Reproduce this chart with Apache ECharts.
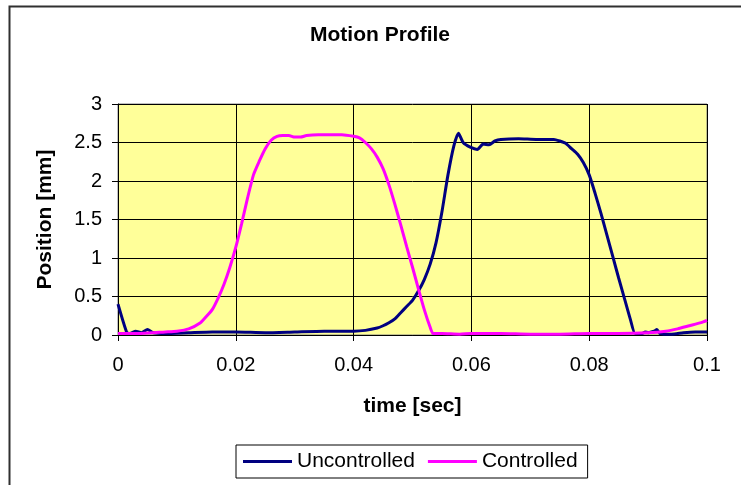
<!DOCTYPE html>
<html>
<head>
<meta charset="utf-8">
<script src="https://cdn.jsdelivr.net/npm/echarts@6/dist/echarts.min.js"></script>
<style>
html,body{margin:0;padding:0;background:#fff;}
#chart{width:741px;height:485px;}
</style>
</head>
<body>
<div id="chart"></div>
<script>
var xTicks = [0, 0.02, 0.04, 0.06, 0.08, 0.1];
var yTicks = [0, 0.5, 1, 1.5, 2, 2.5, 3];

var uncTime = [0, 0.0015, 0.002, 0.003, 0.004, 0.005, 0.006, 0.008, 0.012, 0.016, 0.020, 0.025, 0.030, 0.035, 0.040, 0.042, 0.044, 0.045, 0.046, 0.047, 0.048, 0.049, 0.050, 0.051, 0.052, 0.053, 0.054, 0.055, 0.056, 0.057, 0.0578, 0.0586, 0.0598, 0.061, 0.062, 0.063, 0.064, 0.065, 0.068, 0.071, 0.074, 0.075, 0.076, 0.077, 0.078, 0.079, 0.080, 0.081, 0.082, 0.083, 0.084, 0.085, 0.086, 0.087, 0.0878, 0.089, 0.0895, 0.090, 0.091, 0.0915, 0.092, 0.094, 0.096, 0.098, 0.100];
var uncPos  = [0.4, 0.03, 0.02, 0.05, 0.03, 0.07, 0.03, 0.02, 0.03, 0.04, 0.04, 0.03, 0.04, 0.05, 0.05, 0.06, 0.09, 0.12, 0.16, 0.21, 0.29, 0.37, 0.45, 0.57, 0.72, 0.92, 1.2, 1.6, 2.07, 2.45, 2.62, 2.5, 2.44, 2.41, 2.48, 2.47, 2.52, 2.54, 2.55, 2.54, 2.54, 2.52, 2.49, 2.42, 2.35, 2.24, 2.08, 1.84, 1.58, 1.3, 1.02, 0.74, 0.47, 0.2, 0.02, 0.02, 0.04, 0.03, 0.05, 0.07, 0.02, 0.01, 0.03, 0.04, 0.04];

var ctrlTime = [0, 0.004, 0.008, 0.010, 0.012, 0.014, 0.015, 0.016, 0.017, 0.018, 0.019, 0.020, 0.021, 0.022, 0.023, 0.024, 0.025, 0.026, 0.027, 0.028, 0.029, 0.030, 0.031, 0.032, 0.034, 0.036, 0.038, 0.040, 0.041, 0.042, 0.043, 0.044, 0.045, 0.046, 0.047, 0.048, 0.049, 0.050, 0.051, 0.052, 0.053, 0.0535, 0.055, 0.058, 0.060, 0.065, 0.070, 0.075, 0.080, 0.085, 0.090, 0.093, 0.095, 0.097, 0.099, 0.100];
var ctrlPos  = [0.02, 0.02, 0.04, 0.05, 0.08, 0.16, 0.24, 0.33, 0.48, 0.66, 0.88, 1.14, 1.45, 1.78, 2.08, 2.26, 2.42, 2.53, 2.58, 2.59, 2.59, 2.57, 2.57, 2.59, 2.6, 2.6, 2.6, 2.58, 2.56, 2.5, 2.42, 2.31, 2.16, 1.95, 1.7, 1.43, 1.15, 0.88, 0.6, 0.33, 0.1, 0.02, 0.02, 0.01, 0.02, 0.02, 0.01, 0.01, 0.02, 0.02, 0.03, 0.05, 0.08, 0.12, 0.16, 0.19];

function pairs(t, v) { return t.map(function (x, i) { return [x, v[i]]; }); }

var FONT = 'Arial, "Liberation Sans", sans-serif';
var chart = echarts.init(document.getElementById('chart'));
chart.setOption({
  animation: false,
  backgroundColor: '#ffffff',
  graphic: [{
    type: 'rect', silent: true, z: 100,
    shape: { x: 9.5, y: 6.5, width: 800, height: 600 },
    style: { fill: 'none', stroke: '#303030', lineWidth: 2 }
  }],
  title: {
    text: 'Motion Profile',
    left: 310, top: 25, padding: 0,
    textStyle: { fontFamily: FONT, fontSize: 21, fontWeight: 'bold', color: '#000' }
  },
  legend: {
    left: 236, top: 445,
    padding: [6, 10, 6, 7],
    borderColor: '#000', borderWidth: 1,
    itemGap: 13, itemWidth: 49, itemHeight: 3,
    icon: 'rect',
    textStyle: { fontFamily: FONT, fontSize: 21, color: '#000' },
    data: ['Uncontrolled', 'Controlled']
  },
  grid: {
    left: 118, right: 34, top: 104, bottom: 150,
    show: true, backgroundColor: '#FFFF99', borderColor: '#808080', borderWidth: 1
  },
  xAxis: {
    type: 'value', min: xTicks[0], max: xTicks[xTicks.length - 1], interval: 0.02,
    name: 'time [sec]', nameLocation: 'middle', nameGap: 61,
    nameTextStyle: { fontFamily: FONT, fontSize: 21, fontWeight: 'bold', color: '#000' },
    axisLine: { lineStyle: { color: '#000', width: 1 } },
    axisTick: { show: true, length: 6, lineStyle: { color: '#000' } },
    axisLabel: { fontFamily: FONT, fontSize: 20, color: '#000', margin: 20 },
    splitLine: { show: true, lineStyle: { color: '#000', width: 1 } }
  },
  yAxis: {
    type: 'value', min: yTicks[0], max: yTicks[yTicks.length - 1], interval: 0.5,
    name: 'Position [mm]', nameLocation: 'middle', nameGap: 62,
    nameTextStyle: { fontFamily: FONT, fontSize: 21, fontWeight: 'bold', color: '#000' },
    axisLine: { show: true, lineStyle: { color: '#000', width: 1 } },
    axisTick: { show: true, length: 6, lineStyle: { color: '#000' } },
    axisLabel: { fontFamily: FONT, fontSize: 20, color: '#000', margin: 16 },
    splitLine: { show: true, lineStyle: { color: '#000', width: 1 } }
  },
  series: [
    {
      name: 'Uncontrolled', type: 'line', showSymbol: false, symbol: 'none',
      data: pairs(uncTime, uncPos), smooth: 0.2,
      lineStyle: { color: '#000080', width: 3 }, itemStyle: { color: '#000080' }
    },
    {
      name: 'Controlled', type: 'line', showSymbol: false, symbol: 'none',
      data: pairs(ctrlTime, ctrlPos), smooth: 0.2,
      lineStyle: { color: '#FF00FF', width: 3 }, itemStyle: { color: '#FF00FF' }
    }
  ]
});
</script>
</body>
</html>
